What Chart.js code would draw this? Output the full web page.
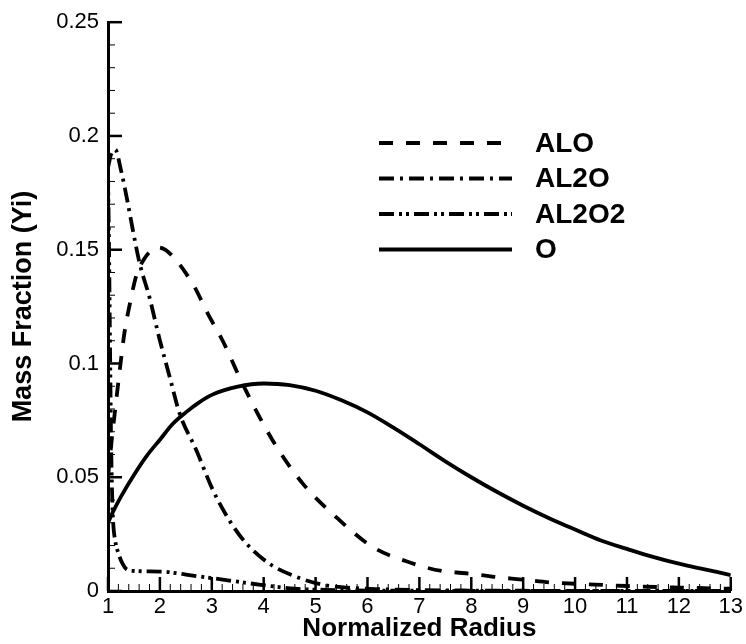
<!DOCTYPE html>
<html lang="en">
<head>
  <meta charset="UTF-8" />
  <script src="https://cdn.jsdelivr.net/npm/chart.js"></script>
  <title>Mass Fraction vs Normalized Radius</title>
  <style>
    body { margin: 0; background: #fff; }
    canvas { display: block; }
  </style>
</head>
<body>
  <canvas id="chart" width="746" height="644"></canvas>

  <script>
    // species profiles along the normalized radius
    const aloR = [1, 1.07, 1.16, 1.2, 1.26, 1.32, 1.41, 1.55, 1.7, 1.85, 1.97, 2.1, 2.31, 2.67, 2.92, 3.21, 3.59, 4.17, 4.75, 5.39, 6.09, 6.86, 7.43, 7.9, 8.45, 9.0, 9.55, 10.2, 11, 12, 13];
    const aloY = [0.05, 0.066, 0.084, 0.092, 0.1035, 0.114, 0.125, 0.139, 0.146, 0.150, 0.151, 0.150, 0.1455, 0.1335, 0.122, 0.110, 0.0912, 0.0663, 0.0473, 0.0326, 0.0195, 0.0122, 0.0088, 0.0078, 0.0062, 0.0050, 0.0037, 0.003, 0.0022, 0.0015, 0.001];

    const al2oR = [1, 1.06, 1.14, 1.25, 1.36, 1.48, 1.61, 1.8, 1.99, 2.19, 2.38, 2.7, 3.02, 3.34, 3.66, 4.11, 4.62, 5.13, 5.6, 6.2, 7, 8, 9, 10, 11, 12, 13];
    const al2oY = [0.186, 0.192, 0.194, 0.185, 0.173, 0.1585, 0.144, 0.129, 0.111, 0.094, 0.078, 0.062, 0.0444, 0.031, 0.021, 0.012, 0.0063, 0.0028, 0.0015, 0.0008, 0.0004, 0.0002, 0.0001, 0, 0, 0, 0];

    const al2o2R = [1, 1.02, 1.04, 1.06, 1.08, 1.1, 1.14, 1.2, 1.28, 1.36, 1.5, 2.06, 2.5, 3.02, 3.5, 3.98, 4.6, 5.2, 6, 7, 8, 9, 10, 11, 12, 13];
    const al2o2Y = [0.184, 0.15, 0.105, 0.065, 0.042, 0.03, 0.022, 0.0166, 0.012, 0.0095, 0.0088, 0.0085, 0.0072, 0.0056, 0.0041, 0.0026, 0.001, 0.0005, 0.0002, 0.0001, 0, 0, 0, 0, 0, 0];

    const oR = [1, 1.1, 1.25, 1.5, 1.75, 2, 2.25, 2.5, 2.75, 3, 3.5, 4, 4.5, 5, 5.5, 6, 6.5, 7, 7.5, 8, 8.5, 9, 9.5, 10, 10.5, 11, 11.5, 12, 12.5, 13];
    const oY = [0.030, 0.035, 0.0415, 0.051, 0.0595, 0.0665, 0.0735, 0.0785, 0.0828, 0.0862, 0.0898, 0.0912, 0.0905, 0.088, 0.0838, 0.0785, 0.0718, 0.0645, 0.057, 0.050, 0.0435, 0.0375, 0.032, 0.027, 0.0222, 0.0185, 0.015, 0.012, 0.0095, 0.007];

    const xTicks = [1, 2, 3, 4, 5, 6, 7, 8, 9, 10, 11, 12, 13];
    const xTickLabels = ['1', '2', '3', '4', '5', '6', '7', '8', '9', '10', '11', '12', '13'];
    const yTicks = [0, 0.05, 0.1, 0.15, 0.2, 0.25];
    const yTickLabels = ['0', '0.05', '0.1', '0.15', '0.2', '0.25'];

    const FONT = "'Liberation Sans', Arial, Helvetica, sans-serif";
    const pts = (xs, ys) => xs.map((x, i) => ({ x: x, y: ys[i] }));

    function line(label, xs, ys, dash) {
      return {
        label: label,
        data: pts(xs, ys),
        borderColor: '#000',
        borderWidth: 3.8,
        borderDash: dash,
        borderCapStyle: 'butt',
        pointRadius: 0,
        cubicInterpolationMode: 'monotone',
        fill: false
      };
    }

    // Tecplot-style inward tick marks, major + minor
    const innerTicks = {
      id: 'innerTicks',
      afterDraw(chart) {
        const { ctx, chartArea: a, scales: { x, y } } = chart;
        ctx.save();
        ctx.strokeStyle = '#000';
        ctx.setLineDash([]);
        for (let i = 0; i <= 60; i++) {
          const major = i % 5 === 0;
          const px = x.getPixelForValue(1 + i * 0.2);
          ctx.lineWidth = major ? 2.5 : 1;
          ctx.beginPath();
          ctx.moveTo(px, a.bottom);
          ctx.lineTo(px, a.bottom - (major ? 14 : 7));
          ctx.stroke();
        }
        for (let i = 0; i <= 25; i++) {
          const major = i % 5 === 0;
          const py = y.getPixelForValue(i * 0.01);
          ctx.lineWidth = major ? 2.5 : 1;
          ctx.beginPath();
          ctx.moveTo(a.left, py);
          ctx.lineTo(a.left + (major ? 14 : 7), py);
          ctx.stroke();
        }
        ctx.restore();
      }
    };

    // legend block inside the plot: line sample + bold name
    const lineLegend = {
      id: 'lineLegend',
      afterDraw(chart) {
        const ctx = chart.ctx;
        const left = 379, top = 143, gap = 35.5;
        ctx.save();
        ctx.font = 'bold 28px ' + FONT;
        ctx.fillStyle = '#000';
        ctx.textBaseline = 'middle';
        chart.data.datasets.forEach((ds, i) => {
          const yy = top + i * gap;
          ctx.strokeStyle = ds.borderColor;
          ctx.lineWidth = ds.borderWidth;
          ctx.lineCap = 'butt';
          ctx.setLineDash(ds.borderDash || []);
          ctx.beginPath();
          ctx.moveTo(left, yy);
          ctx.lineTo(left + 133, yy);
          ctx.stroke();
          ctx.setLineDash([]);
          ctx.fillText(ds.label, left + 156, yy + 1);
        });
        ctx.restore();
      }
    };

    const ctx = document.getElementById('chart').getContext('2d');
    new Chart(ctx, {
      type: 'line',
      data: {
        datasets: [
          line('ALO', aloR, aloY, [14, 13]),
          line('AL2O', al2oR, al2oY, [15, 6, 3, 6]),
          line('AL2O2', al2o2R, al2o2Y, [15, 5, 3, 4, 3, 5]),
          line('O', oR, oY, [])
        ]
      },
      options: {
        responsive: false,
        animation: false,
        layout: { padding: { top: 22, right: 14, left: 0, bottom: 0 } },
        plugins: {
          legend: { display: false },
          tooltip: { enabled: false }
        },
        scales: {
          x: {
            type: 'linear',
            min: 1,
            max: 13,
            afterBuildTicks: s => { s.ticks = xTicks.map(v => ({ value: v })); },
            afterFit: s => { s.height = 53; },
            ticks: {
              autoSkip: false,
              maxRotation: 0,
              padding: 3,
              color: '#000',
              font: { family: FONT, size: 22 },
              callback: (v, i) => xTickLabels[i]
            },
            grid: { drawOnChartArea: false, drawTicks: false },
            border: { display: true, width: 3, color: '#000' },
            title: {
              display: true,
              text: 'Normalized Radius',
              color: '#000',
              font: { family: FONT, size: 26, weight: 'bold' },
              padding: { top: 0, bottom: 0 }
            }
          },
          y: {
            type: 'linear',
            min: 0,
            max: 0.25,
            afterBuildTicks: s => { s.ticks = yTicks.map(v => ({ value: v })); },
            afterFit: s => { s.width = 108; },
            ticks: {
              padding: 9,
              color: '#000',
              font: { family: FONT, size: 22 },
              callback: (v, i) => yTickLabels[i]
            },
            grid: { drawOnChartArea: false, drawTicks: false },
            border: { display: true, width: 3, color: '#000' },
            title: {
              display: true,
              text: 'Mass Fraction (Yi)',
              color: '#000',
              font: { family: FONT, size: 27, weight: 'bold' },
              padding: { top: 7, bottom: 0 }
            }
          }
        }
      },
      plugins: [innerTicks, lineLegend]
    });
  </script>
</body>
</html>
